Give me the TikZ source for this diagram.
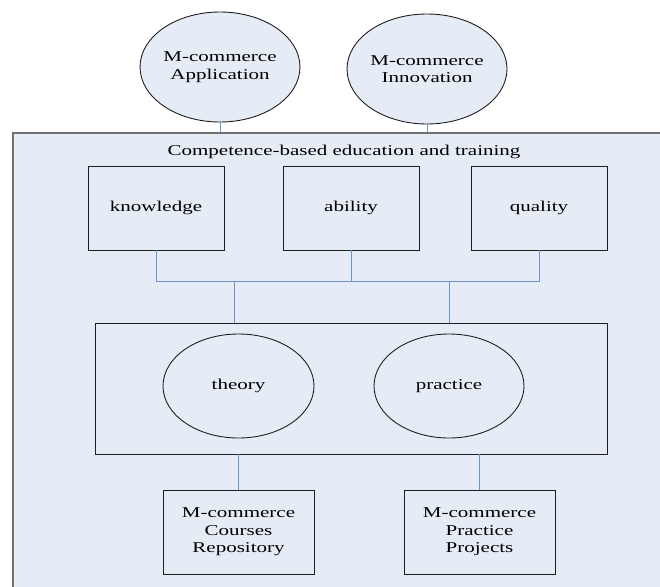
\documentclass[tikz,border=0pt]{standalone}
\usepackage{fontspec}
\setmainfont[FakeStretch=1.4]{Liberation Serif}
\usetikzlibrary{shapes.geometric}
\definecolor{bgfill}{HTML}{E6ECF6}
\definecolor{linkcol}{HTML}{6A94D4}
\definecolor{framecol}{HTML}{707070}
\definecolor{edgecol}{HTML}{202020}
\tikzset{
  every node/.style={font=\fontsize{15}{17.5}\selectfont, align=center, inner sep=0pt},
  oval/.style={ellipse, draw=edgecol, fill=bgfill, line width=0.9pt},
  boxnode/.style={rectangle, draw=edgecol, fill=bgfill, line width=0.9pt},
  link/.style={draw=linkcol, line width=0.8pt},
}
\begin{document}
\begin{tikzpicture}[x=1pt,y=-1pt]
\useasboundingbox (0,0) rectangle (660,586);
\clip (0,0) rectangle (660,586);
% outer frame
\node[rectangle, draw=framecol, fill=bgfill, line width=1.1pt, minimum width=656pt, minimum height=462pt] (frame) at (341,364) {};
\node (title) at (344,152) {Competence-based education and training};
% top ellipses
\node[oval, minimum width=158pt, minimum height=110pt] (app) at (220,67) {M-commerce\\Application};
\node[oval, minimum width=160pt, minimum height=110pt] (inno) at (427,69) {M-commerce\\Innovation};
% three boxes
\node[boxnode, minimum width=136pt, minimum height=84pt] (know) at (156,208) {knowledge};
\node[boxnode, minimum width=136pt, minimum height=84pt] (abil) at (351,208) {ability};
\node[boxnode, minimum width=136pt, minimum height=84pt] (qual) at (539,208) {quality};
% middle container
\node[boxnode, minimum width=512pt, minimum height=131pt] (mid) at (351,388.5) {};
\node[oval, minimum width=151pt, minimum height=104pt] (theo) at (238.5,386) {theory};
\node[oval, minimum width=150pt, minimum height=104pt] (prac) at (449,386) {practice};
% bottom boxes
\node[boxnode, minimum width=151pt, minimum height=84pt] (cour) at (238.5,532) {M-commerce\\Courses\\Repository};
\node[boxnode, minimum width=151pt, minimum height=84pt] (proj) at (479.5,532) {M-commerce\\Practice\\Projects};
% connectors
\coordinate (jl) at (234,281);
\coordinate (jr) at (449,281);
\draw[link] (app.south) -- (app.south |- frame.north);
\draw[link] (inno.south) -- (inno.south |- frame.north);
\draw[link] (know.south) -- (know.south |- jl) -- (qual.south |- jl) -- (qual.south);
\draw[link] (abil.south) -- (abil.south |- jl);
\draw[link] (jl) -- (jl |- mid.north);
\draw[link] (jr) -- (jr |- mid.north);
\draw[link] (mid.south -| cour.north) -- (cour.north);
\draw[link] (mid.south -| proj.north) -- (proj.north);
\end{tikzpicture}
\end{document}
